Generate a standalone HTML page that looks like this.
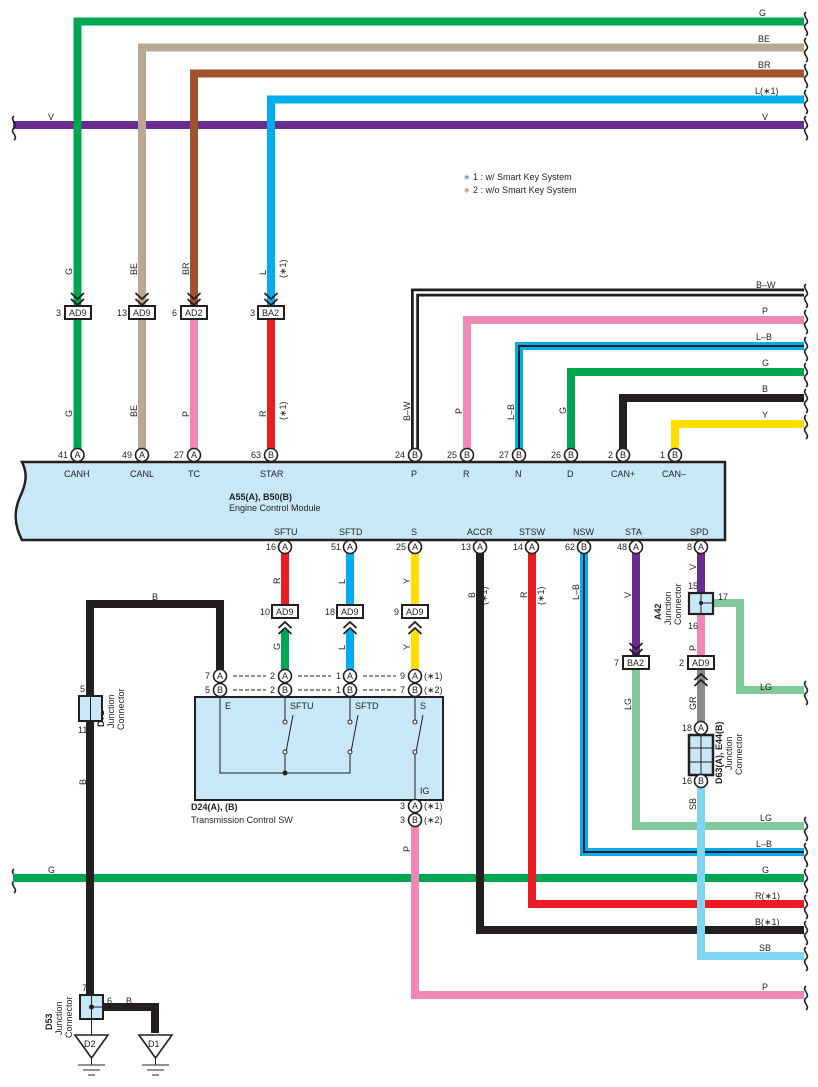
<!DOCTYPE html>
<html><head><meta charset="utf-8"><style>
html,body{margin:0;padding:0;background:#fff}
svg{display:block}
text{font-family:"Liberation Sans",sans-serif;font-size:9px;fill:#231f20}
.w{fill:none;stroke-linejoin:miter;stroke-linecap:butt;stroke-width:8}
.pin{fill:#fff;stroke:#231f20;stroke-width:1.6}
.box{fill:#fff;stroke:#231f20;stroke-width:2}
.ch{fill:none;stroke:#231f20;stroke-width:1.8}
.wv{fill:none;stroke:#231f20;stroke-width:1.6}
.th{fill:none;stroke:#231f20;stroke-width:1}
</style></head><body>
<svg width="818" height="1087" viewBox="0 0 818 1087" xmlns="http://www.w3.org/2000/svg">
<path class="w" stroke="#6a2c8e" d="M13 125H804"/>
<path class="w" stroke="#00a651" d="M77.5 313V21.5H804"/>
<path class="w" stroke="#bba795" d="M142 313V47.5H804"/>
<path class="w" stroke="#a0522d" d="M194 313V73.5H804"/>
<path class="w" stroke="#00aeef" d="M271 313V99.5H804"/>
<text x="759" y="16">G</text><text x="758" y="42">BE</text><text x="758" y="68">BR</text><text x="755" y="94">L(∗1)</text>
<text x="48" y="120">V</text><text x="762" y="120">V</text>
<g class="wv">
<path d="M806 12c-5 4 5 8 0 12c-5 4 5 8 0 12"/><path d="M806 38c-5 4 5 8 0 12c-5 4 5 8 0 12"/><path d="M806 64c-5 4 5 8 0 12c-5 4 5 8 0 12"/><path d="M806 90c-5 4 5 8 0 12c-5 4 5 8 0 12"/><path d="M806 116c-5 4 5 8 0 12c-5 4 5 8 0 12"/>
<path d="M14 116c-5 4 5 8 0 12c-5 4 5 8 0 12"/>
<path d="M806 284c-5 4 5 8 0 12c-5 4 5 8 0 12"/><path d="M806 310c-5 4 5 8 0 12c-5 4 5 8 0 12"/><path d="M806 337c-5 4 5 8 0 12c-5 4 5 8 0 12"/><path d="M806 363c-5 4 5 8 0 12c-5 4 5 8 0 12"/><path d="M806 389c-5 4 5 8 0 12c-5 4 5 8 0 12"/><path d="M806 415c-5 4 5 8 0 12c-5 4 5 8 0 12"/>
<path d="M806 681c-5 4 5 8 0 12c-5 4 5 8 0 12"/><path d="M806 817c-5 4 5 8 0 12c-5 4 5 8 0 12"/><path d="M806 843c-5 4 5 8 0 12c-5 4 5 8 0 12"/><path d="M806 869c-5 4 5 8 0 12c-5 4 5 8 0 12"/><path d="M806 895c-5 4 5 8 0 12c-5 4 5 8 0 12"/><path d="M806 921c-5 4 5 8 0 12c-5 4 5 8 0 12"/><path d="M806 947c-5 4 5 8 0 12c-5 4 5 8 0 12"/><path d="M806 986c-5 4 5 8 0 12c-5 4 5 8 0 12"/>
<path d="M14 869c-5 4 5 8 0 12c-5 4 5 8 0 12"/>
</g>
<text x="463" y="180"><tspan fill="#6d8bb0">∗</tspan> 1 : w/ Smart Key System</text>
<text x="463" y="193"><tspan fill="#b08a6d">∗</tspan> 2 : w/o Smart Key System</text>
<path class="w" stroke="#00a651" d="M77.5 320V450"/>
<path class="w" stroke="#bba795" d="M142 320V450"/>
<path class="w" stroke="#f088b6" d="M194 320V450"/>
<path class="w" stroke="#ed1c24" d="M271 320V450"/>
<g transform="rotate(-90)">
<text x="-275" y="72">G</text><text x="-275" y="137">BE</text><text x="-275" y="189">BR</text><text x="-275" y="266">L</text><text x="-278" y="286" font-size="8">(∗1)</text>
<text x="-417" y="72">G</text><text x="-417" y="137">BE</text><text x="-417" y="189">P</text><text x="-417" y="266">R</text><text x="-420" y="286" font-size="8">(∗1)</text>
<text x="-421" y="410">B–W</text><text x="-414" y="462">P</text><text x="-420" y="514">L–B</text><text x="-414" y="566">G</text>
</g>
<g class="ch">
<path d="M71 293l6.5 6 6.5-6M71 299l6.5 6 6.5-6"/><path d="M135.5 293l6.5 6 6.5-6M135.5 299l6.5 6 6.5-6"/><path d="M187.5 293l6.5 6 6.5-6M187.5 299l6.5 6 6.5-6"/><path d="M264.5 293l6.5 6 6.5-6M264.5 299l6.5 6 6.5-6"/>
</g>
<rect class="box" x="65" y="306" width="26" height="13"/><text x="69" y="316">AD9</text><text x="56" y="316">3</text>
<rect class="box" x="129" y="306" width="26" height="13"/><text x="133" y="316">AD9</text><text x="117" y="316">13</text>
<rect class="box" x="181" y="306" width="26" height="13"/><text x="185" y="316">AD2</text><text x="172" y="316">6</text>
<rect class="box" x="258" y="306" width="26" height="13"/><text x="262" y="316">BA2</text><text x="250" y="316">3</text>
<path class="w" stroke="#231f20" stroke-width="9" d="M415 450V292.5H804"/>
<path fill="none" stroke="#fff" stroke-width="2.5" d="M415 452V292.5H804"/>
<path class="w" stroke="#f088b6" d="M467 450V320H804"/>
<path class="w" stroke="#00aeef" d="M519 450V346H804"/>
<path fill="none" stroke="#231f20" stroke-width="2" d="M519 452V346H804"/>
<path class="w" stroke="#00a651" d="M571 450V372H804"/>
<path class="w" stroke="#231f20" d="M623 450V398H804"/>
<path class="w" stroke="#ffde00" d="M675 450V424H804"/>
<text x="756" y="288">B–W</text><text x="762" y="314">P</text><text x="756" y="340">L–B</text><text x="762" y="366">G</text><text x="762" y="392">B</text><text x="762" y="418">Y</text>
<path d="M22 462H725V540H22C14 525 14 510 20 497C26 484 28 474 22 462Z" fill="#c8e8f8" stroke="#231f20" stroke-width="2.5"/>
<text x="64" y="477">CANH</text><text x="130" y="477">CANL</text><text x="188" y="477">TC</text><text x="260" y="477">STAR</text>
<text x="411" y="477">P</text><text x="463" y="477">R</text><text x="515" y="477">N</text><text x="567" y="477">D</text><text x="611" y="477">CAN+</text><text x="662" y="477">CAN–</text>
<text x="229" y="500" font-weight="bold">A55(A), B50(B)</text><text x="229" y="511">Engine Control Module</text>
<text x="274" y="535">SFTU</text><text x="339" y="535">SFTD</text><text x="411" y="535">S</text><text x="467" y="535">ACCR</text><text x="519" y="535">STSW</text><text x="573" y="535">NSW</text><text x="625" y="535">STA</text><text x="690" y="535">SPD</text>
<path class="w" stroke="#ed1c24" d="M285 552V605"/>
<path class="w" stroke="#00aeef" d="M350 552V605"/>
<path class="w" stroke="#ffde00" d="M415 552V605"/>
<path class="w" stroke="#00a651" d="M285 630V670"/>
<path class="w" stroke="#00aeef" d="M350 630V670"/>
<path class="w" stroke="#ffde00" d="M415 630V670"/>
<path class="w" stroke="#00a651" d="M13 878H804"/>
<text x="48" y="873">G</text><text x="762" y="873">G</text>
<path class="w" stroke="#231f20" d="M220 670V604H90V995"/>
<text x="152" y="600">B</text>
<path class="w" stroke="#f088b6" d="M415 825V995H804"/><text x="762" y="990">P</text>
<path class="w" stroke="#231f20" d="M480 552V930H804"/><text x="755" y="925">B(∗1)</text>
<path class="w" stroke="#ed1c24" d="M532 552V904H804"/><text x="755" y="899">R(∗1)</text>
<path class="w" stroke="#00aeef" d="M584 552V852H804"/>
<path fill="none" stroke="#231f20" stroke-width="2" d="M584 552V852H804"/><text x="756" y="847">L–B</text>
<path class="w" stroke="#7fc99a" d="M636 668V826H804"/><text x="760" y="821">LG</text>
<path class="w" stroke="#6a2c8e" d="M636 552V656"/>
<path class="w" stroke="#6a2c8e" d="M701 552V595"/>
<path class="w" stroke="#f088b6" d="M701 614V656"/>
<path class="w" stroke="#8c8c8c" d="M701 668V722"/>
<path class="w" stroke="#7fc99a" d="M713 603H740V690H804"/><text x="760" y="690">LG</text>
<path class="w" stroke="#80d4f6" d="M701 785V956H804"/><text x="759" y="951">SB</text>
<g transform="rotate(-90)">
<text x="-584" y="280">R</text><text x="-584" y="345">L</text><text x="-584" y="410">Y</text>
<text x="-650" y="280">G</text><text x="-650" y="345">L</text><text x="-650" y="410">Y</text>
<text x="-598" y="475">B</text><text x="-605" y="487" font-size="8">(∗1)</text>
<text x="-598" y="527">R</text><text x="-605" y="544" font-size="8">(∗1)</text>
<text x="-600" y="579">L–B</text><text x="-598" y="631">V</text><text x="-710" y="631">LG</text>
<text x="-570" y="696">V</text><text x="-651" y="696">P</text><text x="-710" y="696">GR</text><text x="-810" y="696">SB</text>
<text x="-785" y="86">B</text><text x="-852" y="410">P</text>
<text x="-620" y="661" font-weight="bold">A42</text><text x="-625" y="671">Junction</text><text x="-625" y="681">Connector</text>
<text x="-727" y="104" font-weight="bold">D71</text><text x="-728" y="114">Junction</text><text x="-730" y="124">Connector</text>
<text x="-784" y="722" font-weight="bold">D63(A), E44(B)</text><text x="-770" y="732">Junction</text><text x="-775" y="742">Connector</text>
<text x="-1030" y="52" font-weight="bold">D53</text><text x="-1035" y="62">Junction</text><text x="-1038" y="72">Connector</text>
</g>
<g class="ch">
<path d="M278.5 628l6.5-6 6.5 6M278.5 634l6.5-6 6.5 6"/><path d="M343.5 628l6.5-6 6.5 6M343.5 634l6.5-6 6.5 6"/><path d="M408.5 628l6.5-6 6.5 6M408.5 634l6.5-6 6.5 6"/>
<path d="M629.5 643l6.5 6 6.5-6M629.5 649l6.5 6 6.5-6"/><path d="M694.5 680l6.5-6 6.5 6M694.5 686l6.5-6 6.5 6"/>
</g>
<rect class="box" x="272" y="605" width="26" height="13"/><text x="276" y="615">AD9</text><text x="260" y="615">10</text>
<rect class="box" x="337" y="605" width="26" height="13"/><text x="341" y="615">AD9</text><text x="325" y="615">18</text>
<rect class="box" x="402" y="605" width="26" height="13"/><text x="406" y="615">AD9</text><text x="394" y="615">9</text>
<rect class="box" x="623" y="656" width="26" height="13"/><text x="627" y="666">BA2</text><text x="614" y="666">7</text>
<rect class="box" x="688" y="656" width="26" height="13"/><text x="692" y="666">AD9</text><text x="679" y="666">2</text>
<rect x="689" y="593" width="24" height="21" fill="#c8e8f8" stroke="#231f20" stroke-width="2.2"/>
<path class="th" d="M701 593V614M701 603H713"/><circle cx="701" cy="603" r="2" fill="#231f20"/>
<text x="688" y="589">15</text><text x="718" y="600">17</text><text x="688" y="629">16</text>
<rect x="689" y="735" width="24" height="40" fill="#c8e8f8" stroke="#231f20" stroke-width="2.5"/>
<path class="th" d="M701 735V775M689 748H713M689 762H713"/>
<rect x="79" y="696" width="23" height="25" fill="#c8e8f8" stroke="#231f20" stroke-width="2"/>
<path class="th" d="M90.5 696V721"/>
<text x="80" y="692">5</text><text x="78" y="733">11</text>
<rect x="195" y="697" width="248" height="103" fill="#c8e8f8" stroke="#231f20" stroke-width="2"/>
<g class="th">
<path d="M220 697V773H350V753"/><path d="M285 697V722M285 753V773"/><path d="M350 697V722"/><path d="M415 697V722M415 753V800"/>
<path d="M286 752L293 715M351 752L358 715M416 752L423 715"/>
</g>
<g fill="#fff" stroke="#231f20" stroke-width="1">
<circle cx="285" cy="722" r="2"/><circle cx="285" cy="752" r="2"/><circle cx="350" cy="722" r="2"/><circle cx="350" cy="752" r="2"/><circle cx="415" cy="722" r="2"/><circle cx="415" cy="752" r="2"/>
</g>
<circle cx="285" cy="773" r="2.5" fill="#231f20"/>
<text x="225" y="709">E</text><text x="290" y="709">SFTU</text><text x="355" y="709">SFTD</text><text x="420" y="709">S</text><text x="420" y="794">IG</text>
<text x="191" y="810" font-weight="bold">D24(A), (B)</text><text x="191" y="823">Transmission Control SW</text>
<g stroke="#231f20" stroke-width="1" stroke-dasharray="4,2"><path d="M233 676H266M298 676H331M363 676H396M233 690H266M298 690H331M363 690H396"/></g>
<path class="w" stroke="#231f20" d="M103 1007H155V1033"/>
<rect x="80" y="995" width="23" height="24" fill="#c8e8f8" stroke="#231f20" stroke-width="2"/>
<path class="th" d="M91.5 995V1035M91.5 1007H103"/><circle cx="91.5" cy="1007" r="2.5" fill="#231f20"/>
<text x="82" y="991">7</text><text x="107" y="1004">6</text><text x="126" y="1004">B</text>
<path d="M75 1035H108L91.5 1058Z" fill="#fff" stroke="#231f20" stroke-width="1.6"/><text x="84" y="1047">D2</text>
<path d="M139 1035H172L155.5 1058Z" fill="#fff" stroke="#231f20" stroke-width="1.6"/><text x="148" y="1047">D1</text>
<g class="th"><path d="M91.5 1058V1065M78 1065H105M83 1070H100M88 1075H95"/><path d="M155.5 1058V1065M142 1065H169M147 1070H164M152 1075H159"/></g>
<g>
<circle class="pin" cx="77.5" cy="455" r="6.5"/><text x="74.5" y="458">A</text><text x="58" y="458">41</text>
<circle class="pin" cx="142" cy="455" r="6.5"/><text x="139" y="458">A</text><text x="122" y="458">49</text>
<circle class="pin" cx="194" cy="455" r="6.5"/><text x="191" y="458">A</text><text x="174" y="458">27</text>
<circle class="pin" cx="271" cy="455" r="6.5"/><text x="268" y="458">B</text><text x="251" y="458">63</text>
<circle class="pin" cx="415" cy="455" r="6.5"/><text x="412" y="458">B</text><text x="395" y="458">24</text>
<circle class="pin" cx="467" cy="455" r="6.5"/><text x="464" y="458">B</text><text x="447" y="458">25</text>
<circle class="pin" cx="519" cy="455" r="6.5"/><text x="516" y="458">B</text><text x="499" y="458">27</text>
<circle class="pin" cx="571" cy="455" r="6.5"/><text x="568" y="458">B</text><text x="551" y="458">26</text>
<circle class="pin" cx="623" cy="455" r="6.5"/><text x="620" y="458">B</text><text x="608" y="458">2</text>
<circle class="pin" cx="675" cy="455" r="6.5"/><text x="672" y="458">B</text><text x="660" y="458">1</text>
<circle class="pin" cx="285" cy="547" r="6.5"/><text x="282" y="550">A</text><text x="266" y="550">16</text>
<circle class="pin" cx="350" cy="547" r="6.5"/><text x="347" y="550">A</text><text x="331" y="550">51</text>
<circle class="pin" cx="415" cy="547" r="6.5"/><text x="412" y="550">A</text><text x="396" y="550">25</text>
<circle class="pin" cx="480" cy="547" r="6.5"/><text x="477" y="550">A</text><text x="461" y="550">13</text>
<circle class="pin" cx="532" cy="547" r="6.5"/><text x="529" y="550">A</text><text x="513" y="550">14</text>
<circle class="pin" cx="584" cy="547" r="6.5"/><text x="581" y="550">B</text><text x="565" y="550">62</text>
<circle class="pin" cx="636" cy="547" r="6.5"/><text x="633" y="550">A</text><text x="617" y="550">48</text>
<circle class="pin" cx="701" cy="547" r="6.5"/><text x="698" y="550">A</text><text x="687" y="550">8</text>
<circle class="pin" cx="220" cy="676" r="6.5"/><text x="217" y="679">A</text><text x="205" y="679">7</text>
<circle class="pin" cx="220" cy="690" r="6.5"/><text x="217" y="693">B</text><text x="205" y="693">5</text>
<circle class="pin" cx="285" cy="676" r="6.5"/><text x="282" y="679">A</text><text x="270" y="679">2</text>
<circle class="pin" cx="285" cy="690" r="6.5"/><text x="282" y="693">B</text><text x="270" y="693">2</text>
<circle class="pin" cx="350" cy="676" r="6.5"/><text x="347" y="679">A</text><text x="336" y="679">1</text>
<circle class="pin" cx="350" cy="690" r="6.5"/><text x="347" y="693">B</text><text x="336" y="693">1</text>
<circle class="pin" cx="415" cy="676" r="6.5"/><text x="412" y="679">A</text><text x="400" y="679">9</text><text x="424" y="679">(∗1)</text>
<circle class="pin" cx="415" cy="690" r="6.5"/><text x="412" y="693">B</text><text x="400" y="693">7</text><text x="424" y="693">(∗2)</text>
<circle class="pin" cx="415" cy="806" r="6.5"/><text x="412" y="809">A</text><text x="400" y="809">3</text><text x="424" y="809">(∗1)</text>
<circle class="pin" cx="415" cy="820" r="6.5"/><text x="412" y="823">B</text><text x="400" y="823">3</text><text x="424" y="823">(∗2)</text>
<circle class="pin" cx="701" cy="728" r="6.5"/><text x="698" y="731">A</text><text x="682" y="731">18</text>
<circle class="pin" cx="701" cy="781" r="6.5"/><text x="698" y="784">B</text><text x="682" y="784">16</text>
</g>
</svg>
</body></html>
